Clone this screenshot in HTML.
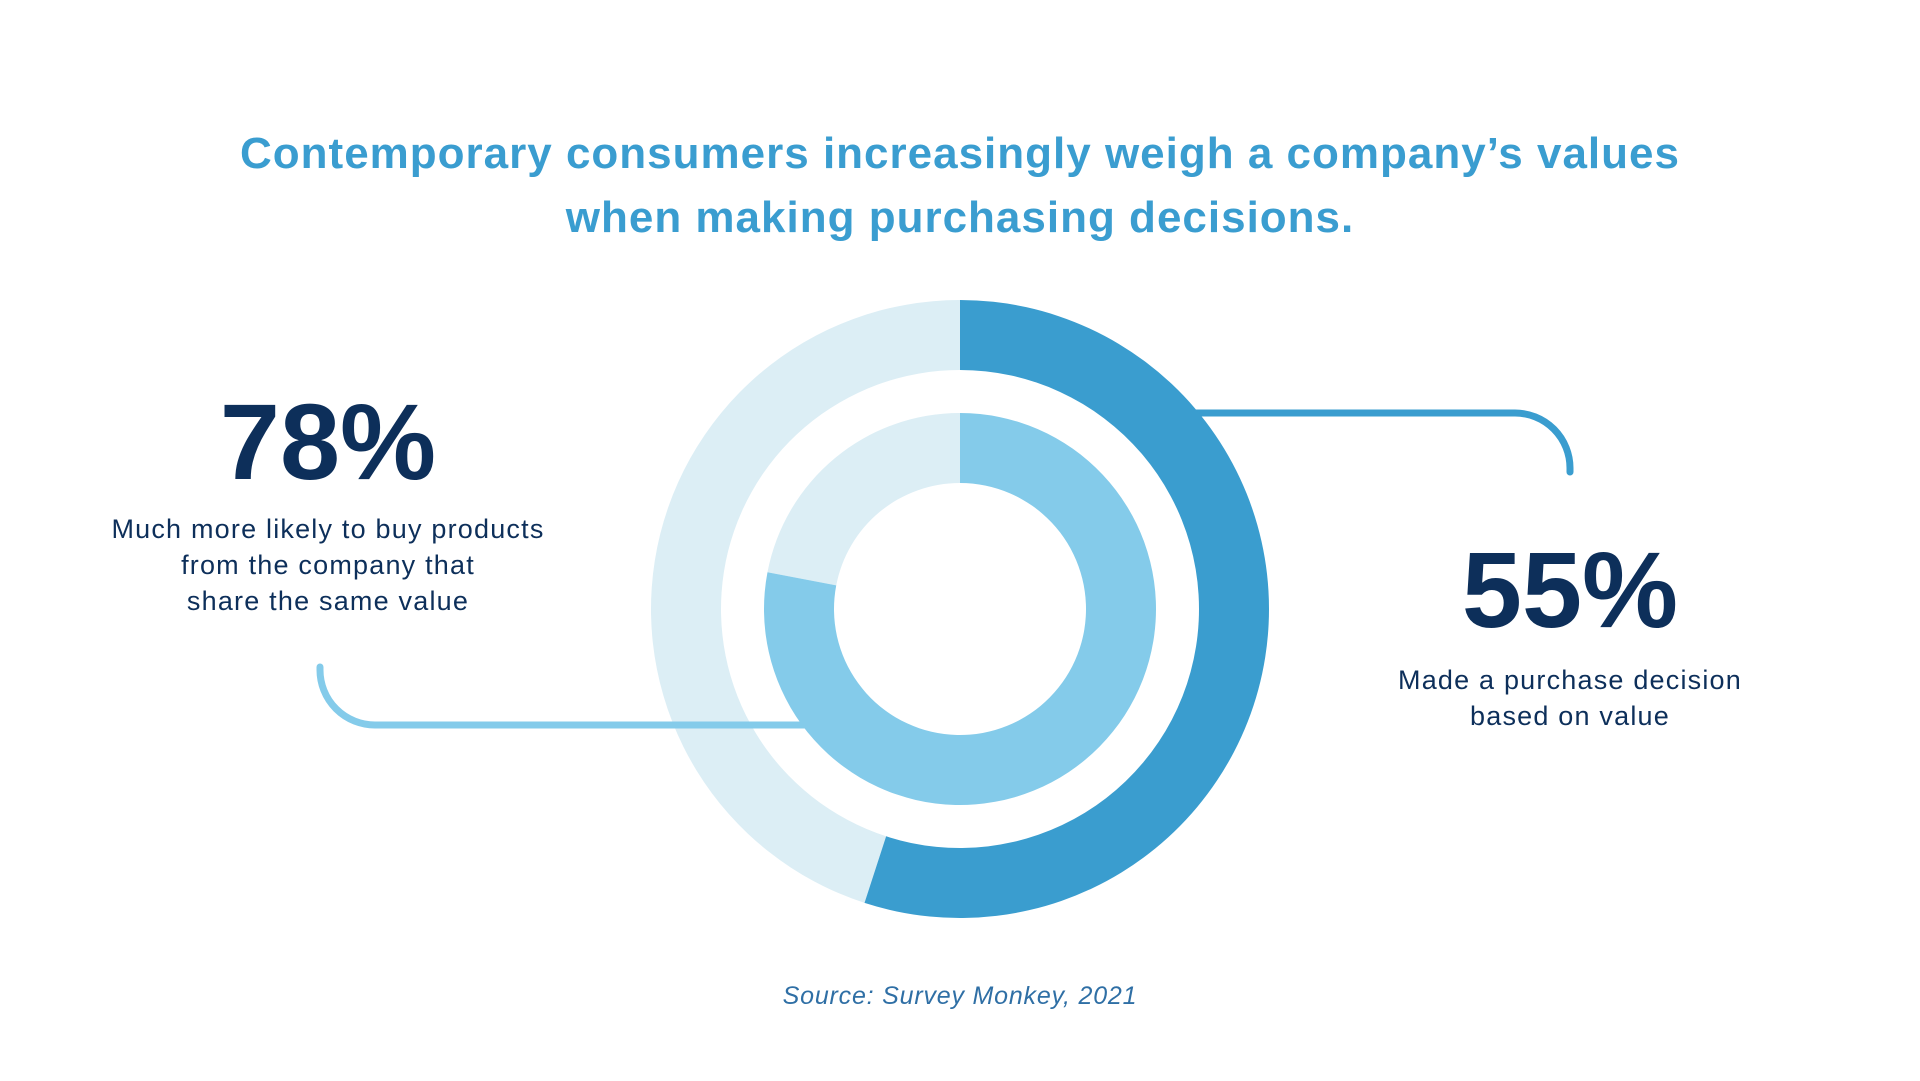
<!DOCTYPE html>
<html><head><meta charset="utf-8"><style>
html,body{margin:0;padding:0;background:#fff;}
body{width:1920px;height:1081px;overflow:hidden;position:relative;font-family:"Liberation Sans",sans-serif;}
.t{position:absolute;text-align:center;white-space:nowrap;}
</style></head><body>
<div class="t" style="left:0;width:1920px;top:122px;font-size:44px;letter-spacing:1px;line-height:64px;font-weight:bold;color:#3a9dd0;">Contemporary consumers increasingly weigh a company’s values<br>when making purchasing decisions.</div>
<div class="t" id="big-left" style="left:128px;width:400px;top:382px;font-size:108px;font-weight:bold;color:#0d2f5a;line-height:120px;"></div>
<div class="t" style="left:28px;width:600px;top:511px;font-size:27px;letter-spacing:1.2px;line-height:36px;color:#0d2f5a;">Much more likely to buy products<br>from the company that<br>share the same value</div>
<div class="t" id="big-right" style="left:1370px;width:400px;top:530px;font-size:108px;font-weight:bold;color:#0d2f5a;line-height:120px;"></div>
<div class="t" style="left:1270px;width:600px;top:662px;font-size:27px;letter-spacing:1.2px;line-height:36px;color:#0d2f5a;">Made a purchase decision<br>based on value</div>
<div class="t" style="left:0;width:1920px;top:982px;font-size:25px;letter-spacing:0.8px;font-style:italic;color:#2f6fa5;">Source: Survey Monkey, 2021</div>
<svg id="chart" width="1920" height="1081" style="position:absolute;left:0;top:0;">
<path d="M1194 413 H1515 A55 55 0 0 1 1570 468 V472" fill="none" stroke="#3a9dcf" stroke-width="7" stroke-linecap="round"/>
</svg>
<script>
const labels = ["Made a purchase decision based on value", "Much more likely to buy from company sharing values"];
const values = [55, 78];
const cx = 960, cy = 609;
const rings = [{ro:309, ri:239, fg:"#3a9dcf", bg:"#dceef5"}, {ro:196, ri:126, fg:"#84cbea", bg:"#dceef5"}];
const svg = document.getElementById('chart');
const NS = "http://www.w3.org/2000/svg";
function pt(r, frac){const a = frac*2*Math.PI; return [cx + r*Math.sin(a), cy - r*Math.cos(a)];}
function arcPath(ro, ri, f0, f1){
  const large = (f1-f0) > 0.5 ? 1 : 0;
  const a=pt(ro,f0), b=pt(ro,f1), c=pt(ri,f1), d=pt(ri,f0);
  return `M${a[0]} ${a[1]} A${ro} ${ro} 0 ${large} 1 ${b[0]} ${b[1]} L${c[0]} ${c[1]} A${ri} ${ri} 0 ${large} 0 ${d[0]} ${d[1]} Z`;
}
values.forEach((v, i) => {
  const R = rings[i], f = v/100;
  const bg = document.createElementNS(NS, 'path');
  bg.setAttribute('d', arcPath(R.ro, R.ri, f, 0.99999));
  bg.setAttribute('fill', R.bg);
  
  
  svg.appendChild(bg);
  const fg = document.createElementNS(NS, 'path');
  fg.setAttribute('d', arcPath(R.ro, R.ri, 0, f));
  fg.setAttribute('fill', R.fg);
  
  
  svg.appendChild(fg);
});
const lc = document.createElementNS(NS, 'path');
lc.setAttribute('d', 'M320 667 V670 A55 55 0 0 0 375 725 H808');
lc.setAttribute('fill', 'none');
lc.setAttribute('stroke', '#84cbea');
lc.setAttribute('stroke-width', '7');
lc.setAttribute('stroke-linecap', 'round');


svg.insertBefore(lc, svg.children[2]);
document.getElementById('big-right').textContent = values[0] + '%';
document.getElementById('big-left').textContent = values[1] + '%';
</script>
</body></html>
